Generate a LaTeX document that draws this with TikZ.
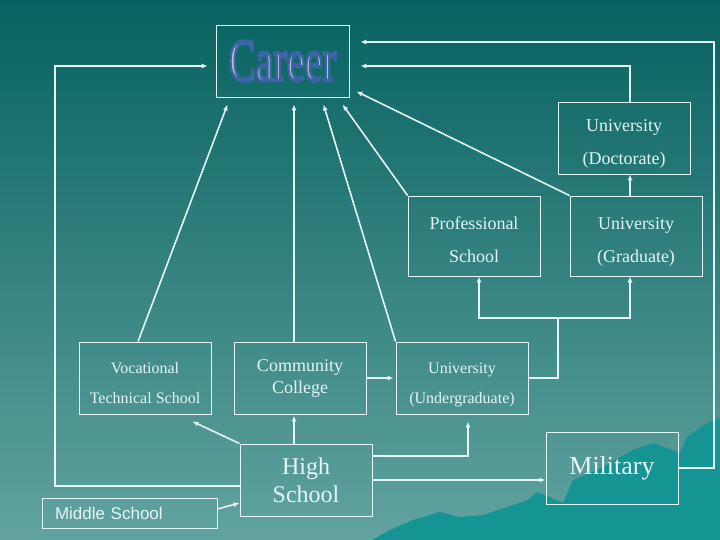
\documentclass[tikz,border=0pt]{standalone}
\usepackage{fontspec}
\setmainfont{Liberation Serif}
\newfontfamily\plainsans{Liberation Sans}
\usetikzlibrary{arrows.meta}
\definecolor{bgtop}{RGB}{6,98,96}
\definecolor{bgbottom}{RGB}{98,163,160}
\definecolor{hill}{RGB}{20,148,146}
\definecolor{ink}{RGB}{228,246,246}
\definecolor{artgray}{RGB}{184,192,200}
% gray letters with a blue rim
\newcommand{\wordart}[1]{\scalebox{0.67}[1]{\color{artgray}\special{pdf:literal direct 0.235 0.392 0.647 RG 2 Tr 3.2 w}#1\special{pdf:literal direct 0 Tr}}}
\newcommand{\hup}{\rule{0pt}{20pt}}

\begin{document}
\begin{tikzpicture}[x=1pt, y=-1pt, >={Latex[length=6pt,width=5pt]},
    box/.style={rectangle, draw=ink, line width=0.9pt, text=ink, inner sep=0pt, align=center,
      minimum width=132pt, minimum height=72pt},
    link/.style={draw=ink, line width=1.6pt},
    txt/.style={font=\fontsize{18}{33}\selectfont, text depth=0pt}]

  \useasboundingbox (0,0) rectangle (720,540);
  \shade[top color=bgtop, bottom color=bgbottom] (0,0) rectangle (720,540);
  % hills in the corner
  \fill[hill] (372,540) -- (390,530) -- (413,520) -- (440,512) -- (459,517) -- (483,515)
    -- (507,507) -- (528,500) -- (537,492) -- (550,497) -- (563,503) -- (573,480)
    -- (597,470) -- (633,450) -- (653,443) -- (680,453) -- (687,437) -- (707,423)
    -- (720,418) -- (720,540) -- cycle;

  \node[box, minimum width=133pt] (career) at (282.5,61) {\fontsize{60}{60}\selectfont\wordart{Career}};
  \node[box, txt] (doct) at (624,138) {\hup University\\(Doctorate)};
  \node[box, txt, minimum height=80pt] (prof) at (474,236) {\hup Professional\\School};
  \node[box, txt, minimum height=80pt] (grad) at (636,236) {\hup University\\(Graduate)};
  \node[box, font=\fontsize{16}{30}\selectfont, text depth=0pt] (voc) at (145,378) {\hup Vocational\\Technical School};
  \node[box, font=\fontsize{18}{22}\selectfont] (cc) at (300,378) {Community\\College};
  \node[box, font=\fontsize{16}{30}\selectfont, text depth=0pt] (ugrad) at (462,378) {\hup University\\(Undergraduate)};
  \node[box, font=\fontsize{24}{28}\selectfont] (hs) at (306,480) {High\\School};
  \node[box, font=\fontsize{26}{30}\selectfont] (mil) at (612,468) {Military};
  \node[box, font=\plainsans\fontsize{17}{20}\selectfont, minimum width=175pt, minimum height=30pt,
    text width=149pt, align=left] (ms) at (129.5,513) {Middle School};

  \coordinate (lft) at (55,66);
  \coordinate (rgt) at (714,42);
  \coordinate (fork) at (558,318);

  % into career
  \draw[link, line width=1.1pt, ->, shorten >=8pt] ([yshift=-6pt]hs.west) -| (lft) -- (lft -| career.west);
  \draw[link, line width=1.1pt, ->, shorten >=11pt] (mil.east) -| (rgt) -- (rgt -| career.east);
  \draw[link, ->, shorten >=11pt] ([xshift=6pt]doct.north) |- ([yshift=-5pt]career.east);
  \draw[link, ->] (grad.north west) -- ([shift={(7pt,6pt)}]career.south east);
  \draw[link, ->] (prof.north west) -- ([shift={(60pt,-7pt)}]career.south);
  \draw[link, ->] (ugrad.north west) -- ([shift={(41pt,-7pt)}]career.south);
  \draw[link, ->] ([xshift=-6pt]cc.north) -- ([shift={(11.5pt,-7pt)}]career.south);
  \draw[link, ->] ([xshift=-7pt]voc.north) -- ([shift={(-55pt,-7pt)}]career.south);

  % university path
  \draw[link, ->] ([xshift=-6pt]grad.north) -- ([xshift=6pt]doct.south);
  \draw[link] (ugrad.east) -| (fork);
  \draw[link, ->] (fork) -| ([xshift=5pt]prof.south);
  \draw[link, ->] (fork) -| ([xshift=-6pt]grad.south);
  \draw[link, ->, shorten >=2pt] (cc.east) -- (ugrad.west);

  % out of high school
  \draw[link, ->, shorten >=1pt] ([xshift=-12pt]hs.north) -- ([xshift=-6pt]cc.south);
  \draw[link, ->] (hs.north west) -- ([shift={(-19pt,-7pt)}]voc.south east);
  \draw[link, ->, shorten >=7pt] ([yshift=24pt]hs.east) -| ([xshift=6pt]ugrad.south);
  \draw[link, ->] (hs.east) -- (hs.east -| mil.west);
  \draw[link, ->] ([yshift=4pt]ms.east) -- ([yshift=-23pt]hs.west);
\end{tikzpicture}
\end{document}
